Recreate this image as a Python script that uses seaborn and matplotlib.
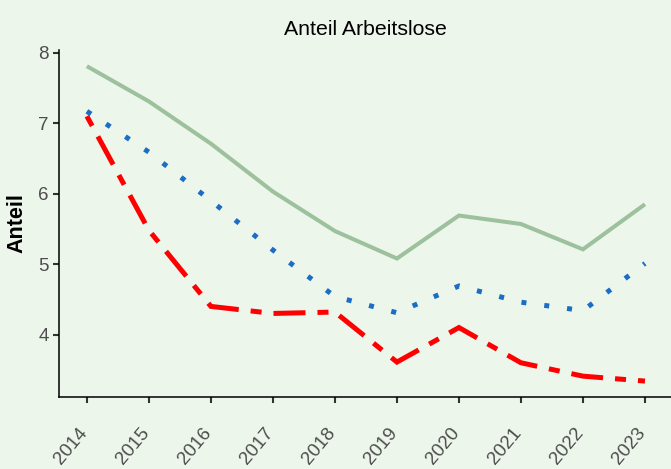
import matplotlib
matplotlib.use("Agg")
import matplotlib.pyplot as plt
from matplotlib.transforms import ScaledTranslation
import seaborn as sns
import pandas as pd

years = [2014, 2015, 2016, 2017, 2018, 2019, 2020, 2021, 2022, 2023]
series_a = [7.81, 7.31, 6.71, 6.03, 5.47, 5.08, 5.69, 5.57, 5.21, 5.85]
series_b = [7.17, 6.59, 5.90, 5.20, 4.54, 4.31, 4.69, 4.46, 4.34, 5.01]
series_c = [7.10, 5.48, 4.40, 4.30, 4.32, 3.61, 4.10, 3.60, 3.41, 3.34]
names = ["A", "B", "C"]
title = "Anteil Arbeitslose"
ylabel = "Anteil"
yticks = [4, 5, 6, 7, 8]

bg = "#EDF6EB"
colors = {"A": "#9DC09D", "B": "#1B6DC6", "C": "#FF0000"}
dashes = {"A": "", "B": (1.0, 3.6), "C": (2.2, 2.4, 6.4, 2.4)}
widths = {"A": 2.9, "B": 3.6, "C": 3.6}

df = pd.DataFrame({
    "Jahr": years * 3,
    "Wert": series_a + series_b + series_c,
    "Reihe": [names[0]] * 10 + [names[1]] * 10 + [names[2]] * 10,
})

sns.set_theme(style="white")
plt.rcParams["font.family"] = ["Liberation Sans", "DejaVu Sans"]

fig = plt.figure(figsize=(6.71, 4.69), dpi=100, facecolor=bg)
ax = fig.add_axes([59 / 671, 72 / 469, 1 - 59 / 671, (397 - 50) / 469])
ax.set_facecolor(bg)

sns.lineplot(data=df, x="Jahr", y="Wert", hue="Reihe", style="Reihe",
             palette=colors, dashes=dashes, legend=False, ax=ax,
             linewidth=3.6)
for line, name in zip(ax.get_lines(), names):
    line.set_linewidth(widths[name])
    line.set_dash_capstyle("butt")
    line.set_solid_capstyle("butt")
    line.set_dash_joinstyle("miter")
    line.set_solid_joinstyle("miter")
    line.set_clip_on(False)

ax.set_xlim(2013.55, 2023.42)
ax.set_ylim(3.114, 8.04)
ax.set_xticks(years)
ax.set_xticklabels([str(y) for y in years], rotation=50, ha="right")
ax.set_yticks(yticks)
ax.set_yticklabels([str(t) for t in yticks])

for sp in ["top", "right"]:
    ax.spines[sp].set_visible(False)
for sp in ["left", "bottom"]:
    ax.spines[sp].set_color("black")
    ax.spines[sp].set_linewidth(1.1)

ax.tick_params(axis="both", which="major", direction="out", length=4.5,
               width=1.5, color="#333333", labelcolor="#4D4D4D",
               labelsize=13.5, bottom=True, left=True)
ax.tick_params(axis="x", pad=15.5)
ax.tick_params(axis="y", pad=3)
for t in ax.get_xticklabels():
    t.set_transform(t.get_transform() + ScaledTranslation(4 / 100, 0, fig.dpi_scale_trans))

ax.set_xlabel("")
ax.set_ylabel(ylabel, fontsize=15.5, fontweight="bold", color="black", labelpad=8)
ax.set_title(title, fontsize=15.3, color="black", pad=11)

fig.savefig("out.png", dpi=100, facecolor=bg)
